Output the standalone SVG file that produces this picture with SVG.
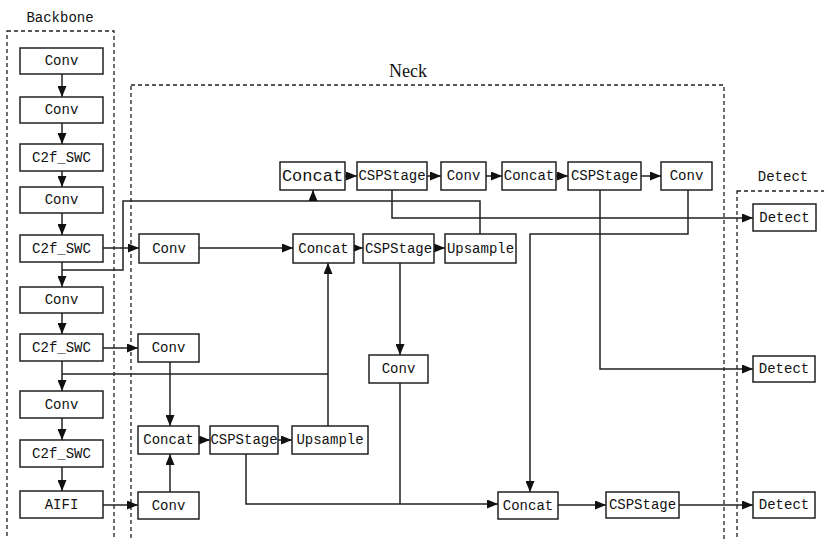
<svg xmlns="http://www.w3.org/2000/svg" width="824" height="539" viewBox="0 0 824 539">
  <style>
    .box { fill: #fff; stroke: #222; stroke-width: 1.5; }
    .grp { fill: none; stroke: #222; stroke-width: 1.3; stroke-dasharray: 4 3; }
    .lbl { font-family: "Liberation Mono", "DejaVu Sans Mono", monospace; font-size: 14px; fill: #111; text-anchor: middle; dominant-baseline: central; }
    .big { font-size: 17px; }
    .title { font-family: "Liberation Mono", monospace; font-size: 14px; fill: #111; text-anchor: middle; }
    .neck { font-family: "Liberation Serif", serif; font-size: 18px; fill: #111; text-anchor: middle; }
    .ln { fill: none; stroke: #222; stroke-width: 1.5; }
    .ar { marker-end: url(#arrow); }
  </style>
  <defs>
    <marker id="arrow" markerUnits="userSpaceOnUse" markerWidth="11" markerHeight="9" refX="11" refY="4.5" orient="auto">
      <path d="M0,0 L11,4.5 L0,9 Z" fill="#111"/>
    </marker>
  </defs>

  <rect width="824" height="539" fill="#fff"/>

  <!-- stage frames -->
  <g id="frames">
    <rect class="grp" x="7" y="31" width="107" height="520"/>
    <text class="title" x="60" y="22">Backbone</text>
    <rect class="grp" x="131" y="85" width="593" height="470"/>
    <text class="neck" x="408" y="77">Neck</text>
    <rect class="grp" x="737" y="191" width="100" height="360"/>
    <text class="title" x="783" y="181">Detect</text>
  </g>

  <!-- connectors -->
  <g id="connectors">
    <!-- backbone chain -->
    <path class="ln ar" d="M62,74 V97"/>
    <path class="ln ar" d="M62,123 V144"/>
    <path class="ln ar" d="M62,171 V187"/>
    <path class="ln ar" d="M62,213 V235"/>
    <path class="ln ar" d="M62,262 V287"/>
    <path class="ln ar" d="M62,313 V334"/>
    <path class="ln ar" d="M62,361 V391"/>
    <path class="ln ar" d="M62,418 V440"/>
    <path class="ln ar" d="M62,467 V491"/>

    <!-- backbone to neck -->
    <path class="ln ar" d="M103,248 H139"/>
    <path class="ln ar" d="M103,348 H138"/>
    <path class="ln ar" d="M103,505 H138"/>

    <!-- middle row -->
    <path class="ln ar" d="M199,248 H293"/>
    <path class="ln ar" d="M354,248 H363"/>
    <path class="ln ar" d="M434,248 H445"/>

    <!-- top row -->
    <path class="ln ar" d="M345,176 H357"/>
    <path class="ln ar" d="M427,176 H441"/>
    <path class="ln ar" d="M486,176 H502"/>
    <path class="ln ar" d="M556,176 H568"/>
    <path class="ln ar" d="M641,176 H661"/>

    <!-- upsample feedback and backbone skip into top concat -->
    <path class="ln" d="M480,234 V201 H123 V270 H62"/>
    <path class="ln ar" d="M313,201 V190"/>

    <!-- outputs to detect heads -->
    <path class="ln ar" d="M392,190 V218 H753"/>
    <path class="ln ar" d="M600,190 V369 H753"/>
    <path class="ln ar" d="M688,190 V234 H530 V492"/>

    <!-- middle CSPStage down -->
    <path class="ln ar" d="M400,263 V355"/>
    <path class="ln" d="M400,383 V504"/>

    <!-- bottom left block -->
    <path class="ln ar" d="M170,362 V426"/>
    <path class="ln ar" d="M170,492 V454"/>
    <path class="ln ar" d="M199,440 H210"/>
    <path class="ln ar" d="M278,440 H292"/>
    <path class="ln" d="M62,374 H328"/>
    <path class="ln ar" d="M328,426 V263"/>
    <path class="ln ar" d="M246,454 V504 H498"/>

    <!-- bottom row -->
    <path class="ln ar" d="M558,505 H606"/>
    <path class="ln ar" d="M679,505 H753"/>
  </g>

  <!-- backbone nodes -->
  <g id="bb_conv1"><rect class="box" x="20" y="48" width="83" height="26"/><text class="lbl" x="61.5" y="61">Conv</text></g>
  <g id="bb_conv2"><rect class="box" x="20" y="97" width="83" height="26"/><text class="lbl" x="61.5" y="110">Conv</text></g>
  <g id="bb_c2f1"><rect class="box" x="20" y="144" width="83" height="27"/><text class="lbl" x="61.5" y="157.5">C2f_SWC</text></g>
  <g id="bb_conv3"><rect class="box" x="20" y="187" width="83" height="26"/><text class="lbl" x="61.5" y="200">Conv</text></g>
  <g id="bb_c2f2"><rect class="box" x="20" y="235" width="83" height="27"/><text class="lbl" x="61.5" y="248.5">C2f_SWC</text></g>
  <g id="bb_conv4"><rect class="box" x="20" y="287" width="83" height="26"/><text class="lbl" x="61.5" y="300">Conv</text></g>
  <g id="bb_c2f3"><rect class="box" x="20" y="334" width="83" height="27"/><text class="lbl" x="61.5" y="347.5">C2f_SWC</text></g>
  <g id="bb_conv5"><rect class="box" x="20" y="391" width="83" height="27"/><text class="lbl" x="61.5" y="404.5">Conv</text></g>
  <g id="bb_c2f4"><rect class="box" x="20" y="440" width="83" height="27"/><text class="lbl" x="61.5" y="453.5">C2f_SWC</text></g>
  <g id="bb_aifi"><rect class="box" x="20" y="491" width="83" height="27"/><text class="lbl" x="61.5" y="504.5">AIFI</text></g>

  <!-- neck: top row -->
  <g id="nk_concat_top"><rect class="box" x="280" y="162" width="65" height="28"/><text class="lbl big" x="312.5" y="176">Concat</text></g>
  <g id="nk_csp_top1"><rect class="box" x="357" y="162" width="70" height="28"/><text class="lbl" x="392" y="176">CSPStage</text></g>
  <g id="nk_conv_top1"><rect class="box" x="441" y="162" width="45" height="28"/><text class="lbl" x="463.5" y="176">Conv</text></g>
  <g id="nk_concat_top2"><rect class="box" x="502" y="162" width="54" height="28"/><text class="lbl" x="529" y="176">Concat</text></g>
  <g id="nk_csp_top2"><rect class="box" x="568" y="162" width="73" height="28"/><text class="lbl" x="604.5" y="176">CSPStage</text></g>
  <g id="nk_conv_top2"><rect class="box" x="661" y="162" width="51" height="28"/><text class="lbl" x="686.5" y="176">Conv</text></g>

  <!-- neck: middle row -->
  <g id="nk_conv_mid"><rect class="box" x="139" y="234" width="60" height="29"/><text class="lbl" x="169" y="248.5">Conv</text></g>
  <g id="nk_concat_mid"><rect class="box" x="293" y="234" width="61" height="29"/><text class="lbl" x="323.5" y="248.5">Concat</text></g>
  <g id="nk_csp_mid"><rect class="box" x="363" y="234" width="71" height="29"/><text class="lbl" x="398.5" y="248.5">CSPStage</text></g>
  <g id="nk_up_mid"><rect class="box" x="445" y="234" width="71" height="29"/><text class="lbl" x="480.5" y="248.5">Upsample</text></g>

  <!-- neck: lower part -->
  <g id="nk_conv_s4"><rect class="box" x="138" y="334" width="61" height="28"/><text class="lbl" x="168.5" y="348">Conv</text></g>
  <g id="nk_conv_down"><rect class="box" x="369" y="355" width="59" height="28"/><text class="lbl" x="398.5" y="369">Conv</text></g>
  <g id="nk_concat_low"><rect class="box" x="138" y="426" width="61" height="28"/><text class="lbl" x="168.5" y="440">Concat</text></g>
  <g id="nk_csp_low"><rect class="box" x="210" y="426" width="68" height="28"/><text class="lbl" x="244" y="440">CSPStage</text></g>
  <g id="nk_up_low"><rect class="box" x="292" y="426" width="76" height="28"/><text class="lbl" x="330" y="440">Upsample</text></g>
  <g id="nk_conv_aifi"><rect class="box" x="138" y="492" width="61" height="27"/><text class="lbl" x="168.5" y="505.5">Conv</text></g>
  <g id="nk_concat_bot"><rect class="box" x="498" y="492" width="60" height="27"/><text class="lbl" x="528" y="505.5">Concat</text></g>
  <g id="nk_csp_bot"><rect class="box" x="606" y="492" width="73" height="26"/><text class="lbl" x="642.5" y="505">CSPStage</text></g>

  <!-- detect heads -->
  <g id="det1"><rect class="box" x="753" y="204" width="63" height="27"/><text class="lbl" x="784.5" y="217.5">Detect</text></g>
  <g id="det2"><rect class="box" x="753" y="356" width="62" height="26"/><text class="lbl" x="784" y="369">Detect</text></g>
  <g id="det3"><rect class="box" x="753" y="492" width="62" height="26"/><text class="lbl" x="784" y="505">Detect</text></g>
</svg>
